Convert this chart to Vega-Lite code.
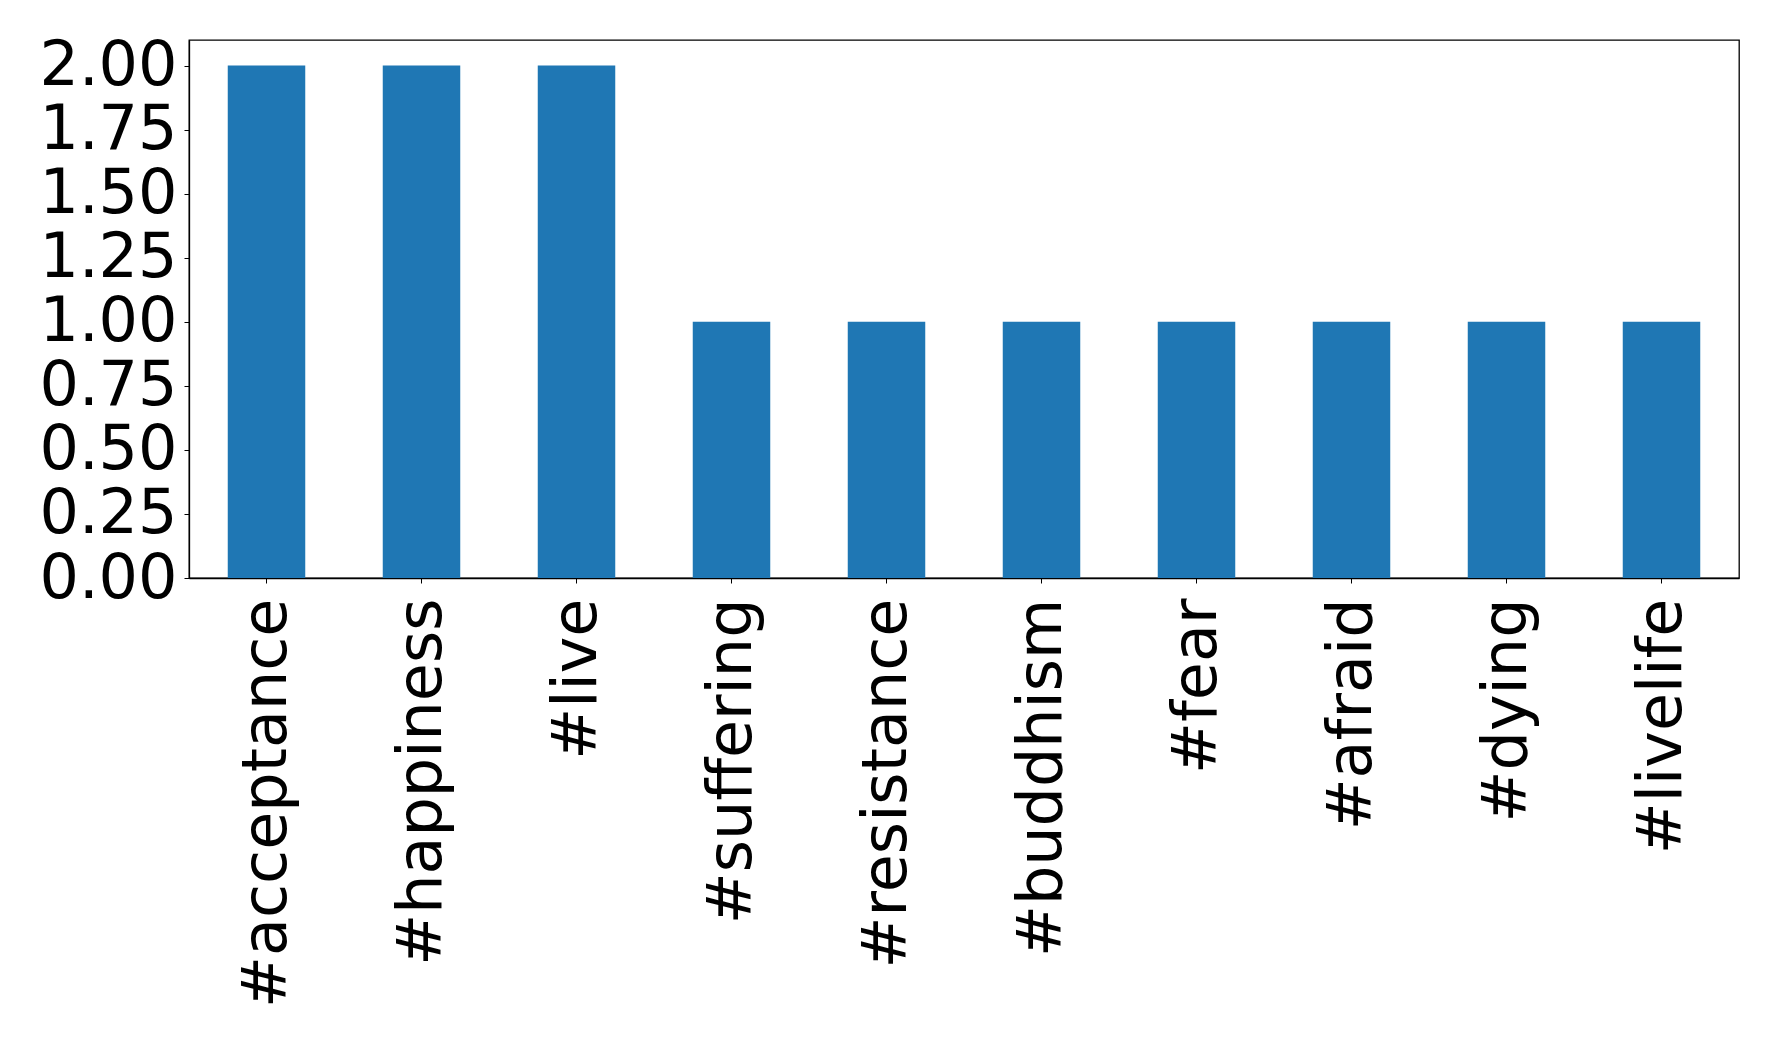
{
  "$schema": "https://vega.github.io/schema/vega-lite/v6.json",
  "autosize": {"type": "none"},
  "padding": {"left": 189, "top": 40, "right": 39, "bottom": 463},
  "width": 1550,
  "height": 538,
  "background": "white",
  "config": {
    "view": {"stroke": "black", "strokeWidth": 1.3},
    "font": "DejaVu Sans"
  },
  "data": {
    "values": [
      {"hashtag": "#acceptance", "count": 2},
      {"hashtag": "#happiness", "count": 2},
      {"hashtag": "#live", "count": 2},
      {"hashtag": "#suffering", "count": 1},
      {"hashtag": "#resistance", "count": 1},
      {"hashtag": "#buddhism", "count": 1},
      {"hashtag": "#fear", "count": 1},
      {"hashtag": "#afraid", "count": 1},
      {"hashtag": "#dying", "count": 1},
      {"hashtag": "#livelife", "count": 1}
    ]
  },
  "mark": {"type": "bar", "color": "#1f77b4"},
  "encoding": {
    "x": {
      "field": "hashtag",
      "type": "nominal",
      "sort": null,
      "scale": {"paddingInner": 0.5, "paddingOuter": 0.25},
      "axis": {
        "title": null,
        "labelAngle": -90,
        "labelAlign": "right",
        "labelBaseline": "middle",
        "labelFontSize": 62,
        "labelColor": "black",
        "labelPadding": 15,
        "labelLimit": 0,
        "tickSize": 5,
        "tickColor": "black",
        "domainColor": "black",
        "domainWidth": 1.3,
        "labelFont": "DejaVu Sans"
      }
    },
    "y": {
      "field": "count",
      "type": "quantitative",
      "scale": {"domain": [0, 2.1], "nice": false},
      "axis": {
        "title": null,
        "values": [0, 0.25, 0.5, 0.75, 1, 1.25, 1.5, 1.75, 2],
        "format": ".2f",
        "grid": false,
        "labelFontSize": 62,
        "labelColor": "black",
        "labelPadding": 7,
        "labelOverlap": false,
        "labelBound": false,
        "tickSize": 5,
        "tickColor": "black",
        "domainColor": "black",
        "domainWidth": 1.3,
        "labelFont": "DejaVu Sans"
      }
    }
  }
}
